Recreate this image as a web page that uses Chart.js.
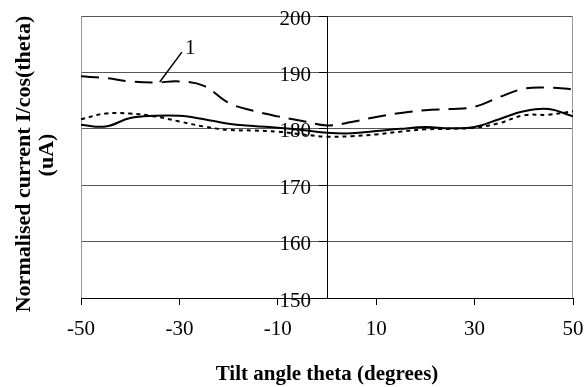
<!DOCTYPE html>
<html>
<head>
<meta charset="utf-8">
<script src="https://cdn.jsdelivr.net/npm/chart.js@4.4.1/dist/chart.umd.min.js"></script>
<style>
  html, body { margin: 0; padding: 0; background: #fff; }
</style>
</head>
<body>
<canvas id="line-chart" width="586" height="387"></canvas>
<script>
// tilt angle theta (degrees)
var theta = [-50, -45, -40, -35, -30, -25, -20, -15, -10, -5, 0, 5, 10, 15, 20, 25, 30, 35, 40, 45, 50];
// normalised current I/cos(theta) in uA
var curveDashed = [189.3, 189.0, 188.4, 188.2, 188.4, 187.6, 184.6, 183.2, 182.2, 181.4, 180.6, 181.2, 182.1, 182.8, 183.3, 183.5, 183.9, 185.6, 187.1, 187.3, 187.0];
var curveSolid  = [180.7, 180.4, 181.9, 182.3, 182.3, 181.7, 180.9, 180.5, 180.2, 179.8, 179.3, 179.2, 179.6, 180.0, 180.3, 180.1, 180.3, 181.7, 183.1, 183.5, 182.2];
var curveDotted = [181.7, 182.7, 182.7, 182.2, 181.3, 180.4, 179.8, 179.7, 179.5, 179.0, 178.6, 178.7, 179.0, 179.5, 179.9, 180.0, 180.2, 181.0, 182.4, 182.5, 183.1];
var xTicks = [-50, -30, -10, 10, 30, 50];
var yTicks = [150, 160, 170, 180, 190, 200];
// label "1" and its leader line (data coords)
var label1 = { text: '1', at: [-27.8, 194.3], from: [-29.5, 193.6], to: [-34, 188.3] };

var serif = 'Liberation Serif, Times New Roman, serif';

function points(values) {
    return theta.map(function (t, i) { return { x: t, y: values[i] }; });
}

var paper = {
    id: 'paper',
    beforeDatasetsDraw: function (chart) {
        var a = chart.chartArea, ctx = chart.ctx;
        ctx.save();
        ctx.strokeStyle = '#999';
        ctx.lineWidth = 1;
        ctx.beginPath();
        ctx.moveTo(Math.round(a.left) + 0.5, a.top);
        ctx.lineTo(Math.round(a.left) + 0.5, a.bottom);
        ctx.moveTo(Math.round(a.right) - 0.5, a.top);
        ctx.lineTo(Math.round(a.right) - 0.5, a.bottom);
        ctx.stroke();
        ctx.restore();
    },
    afterDraw: function (chart) {
        var ctx = chart.ctx, sx = chart.scales.x, sy = chart.scales.y;

        // y tick labels, left of the axis that crosses at theta = 0
        ctx.save();
        ctx.fillStyle = '#000';
        ctx.font = '21px ' + serif;
        ctx.textAlign = 'right';
        ctx.textBaseline = 'middle';
        var ax = sx.getPixelForValue(0);
        yTicks.forEach(function (v) {
            ctx.fillText(String(v), ax - 16, sy.getPixelForValue(v) + 3);
        });
        ctx.restore();

        // y axis title, two lines
        ctx.save();
        ctx.fillStyle = '#000';
        ctx.font = 'bold 22px ' + serif;
        ctx.textAlign = 'center';
        ctx.textBaseline = 'middle';
        ctx.translate(24, 164);
        ctx.rotate(-Math.PI / 2);
        ctx.fillText('Normalised current I/cos(theta)', 0, 0);
        ctx.fillText('(uA)', 9, 23);
        ctx.restore();

        // series label
        ctx.save();
        ctx.strokeStyle = '#000';
        ctx.lineWidth = 1.5;
        ctx.beginPath();
        ctx.moveTo(sx.getPixelForValue(label1.from[0]), sy.getPixelForValue(label1.from[1]));
        ctx.lineTo(sx.getPixelForValue(label1.to[0]), sy.getPixelForValue(label1.to[1]));
        ctx.stroke();
        ctx.fillStyle = '#000';
        ctx.font = '21px ' + serif;
        ctx.textAlign = 'center';
        ctx.textBaseline = 'middle';
        ctx.fillText(label1.text, sx.getPixelForValue(label1.at[0]), sy.getPixelForValue(label1.at[1]));
        ctx.restore();
    }
};

new Chart(document.getElementById('line-chart'), {
    type: 'line',
    data: {
        datasets: [
            { label: 'dashed', data: points(curveDashed), borderColor: '#000', borderWidth: 2, borderDash: [18, 9], pointRadius: 0, tension: 0.4, fill: false },
            { label: 'solid', data: points(curveSolid), borderColor: '#000', borderWidth: 2, pointRadius: 0, tension: 0.4, fill: false },
            { label: 'dotted', data: points(curveDotted), borderColor: '#000', borderWidth: 2, borderDash: [4, 4], pointRadius: 0, tension: 0.4, fill: false }
        ]
    },
    options: {
        responsive: false,
        animation: false,
        devicePixelRatio: 1,
        layout: { padding: { left: 81, right: 13, top: 16, bottom: 0 } },
        plugins: { legend: { display: false }, tooltip: { enabled: false } },
        scales: {
            x: {
                type: 'linear',
                min: -50, max: 50,
                afterBuildTicks: function (s) { s.ticks = xTicks.map(function (v) { return { value: v }; }); },
                afterFit: function (s) { s.height = 89; s.paddingLeft = 0; s.paddingRight = 0; },
                grid: { drawOnChartArea: false, color: '#000', tickLength: 7 },
                border: { color: '#000', width: 1 },
                ticks: { color: '#000', font: { family: serif, size: 21 }, padding: 12, maxRotation: 0 },
                title: { display: true, text: 'Tilt angle theta (degrees)', color: '#000', font: { family: serif, size: 21, weight: 'bold' }, padding: { top: 4, bottom: 0 } }
            },
            y: {
                type: 'linear',
                min: 150, max: 200,
                position: { x: 0 },
                afterBuildTicks: function (s) { s.ticks = yTicks.map(function (v) { return { value: v }; }); },
                grid: { color: '#555', tickColor: '#000', tickLength: 8 },
                border: { color: '#000', width: 1 },
                ticks: { display: false }
            }
        }
    },
    plugins: [paper]
});
</script>
</body>
</html>
